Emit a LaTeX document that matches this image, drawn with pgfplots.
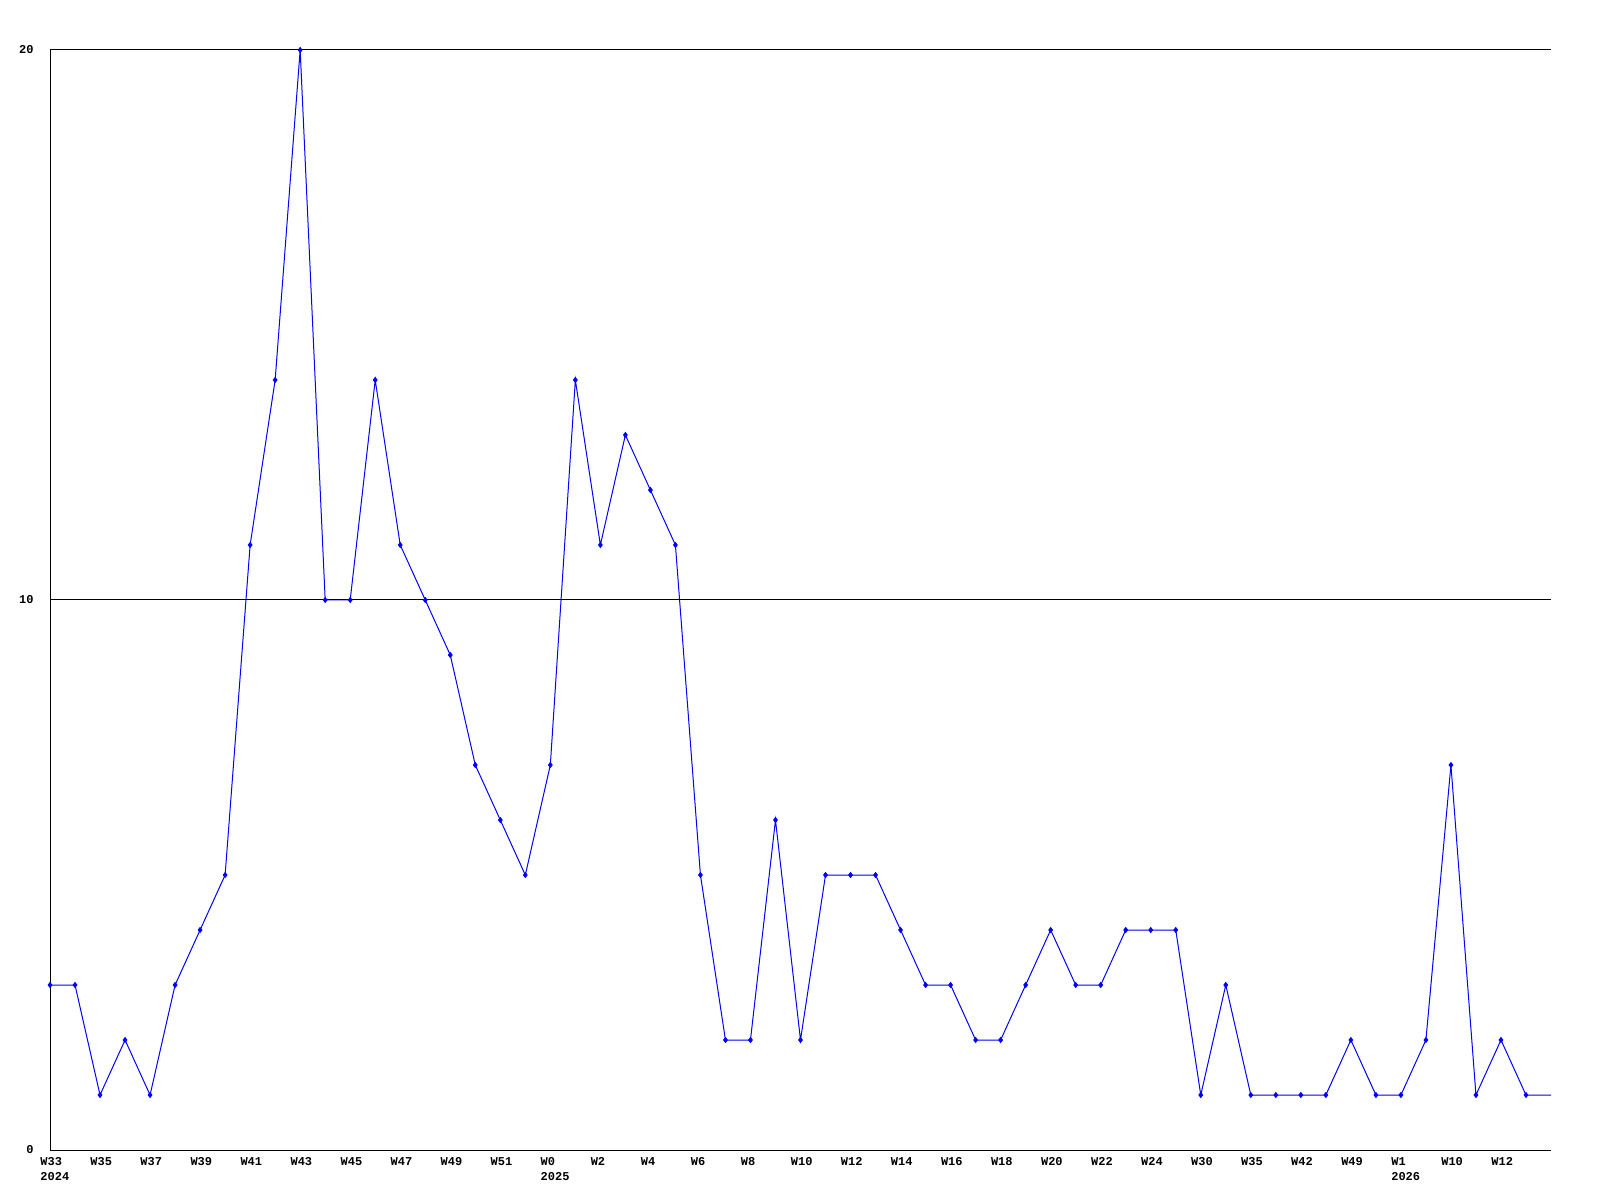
\documentclass[border=0pt]{standalone}
\usepackage{fontspec}
\setmainfont{Liberation Mono}
\usepackage{pgfplots}
\pgfplotsset{compat=1.18}
\begin{document}
\begin{tikzpicture}[x=1pt,y=1pt]
\path[use as bounding box] (0,0) rectangle (800,600);
\begin{axis}[
  at={(25pt,25pt)}, anchor=south west,
  scale only axis, width=750.5pt, height=550pt,
  xmin=0, xmax=60, ymin=0, ymax=20,
  axis x line=bottom, axis y line=left,
  axis line style={-, black, line width=0.5pt},
  ymajorgrids, grid style={black, line width=0.5pt},
  axis on top,
  major tick length=0pt,
  ytick={0,10,20}, yticklabels={0,10,20},
  xtick={0,2,...,58},
  xticklabels={{W33\\2024},W35,W37,W39,W41,W43,W45,W47,W49,W51,{W0\\2025},W2,W4,W6,W8,W10,W12,W14,W16,W18,W20,W22,W24,W30,W35,W42,W49,{W1\\2026},W10,W12},
  xticklabel style={anchor=north west, xshift=-5pt, yshift=-3.5pt, inner sep=0pt, align=left, font=\fontsize{6}{7.5}\selectfont\bfseries},
  yticklabel style={anchor=east, xshift=-8pt, inner sep=0pt, font=\fontsize{6}{7.5}\selectfont\bfseries},
  clip=false,
]
\addplot[color={rgb,255:red,0;green,0;blue,255}, line width=0.5pt, mark=diamond*, mark size=1.2pt,
  mark options={fill={rgb,255:red,0;green,0;blue,255}, draw={rgb,255:red,0;green,0;blue,255}},
  mark indices={1,...,60}] coordinates {
(0,3)(1,3)(2,1)(3,2)(4,1)(5,3)(6,4)(7,5)(8,11)(9,14)
(10,20)(11,10)(12,10)(13,14)(14,11)(15,10)(16,9)(17,7)(18,6)(19,5)
(20,7)(21,14)(22,11)(23,13)(24,12)(25,11)(26,5)(27,2)(28,2)(29,6)
(30,2)(31,5)(32,5)(33,5)(34,4)(35,3)(36,3)(37,2)(38,2)(39,3)
(40,4)(41,3)(42,3)(43,4)(44,4)(45,4)(46,1)(47,3)(48,1)(49,1)
(50,1)(51,1)(52,2)(53,1)(54,1)(55,2)(56,7)(57,1)(58,2)(59,1)
(60,1)
};
\end{axis}
\end{tikzpicture}
\end{document}
